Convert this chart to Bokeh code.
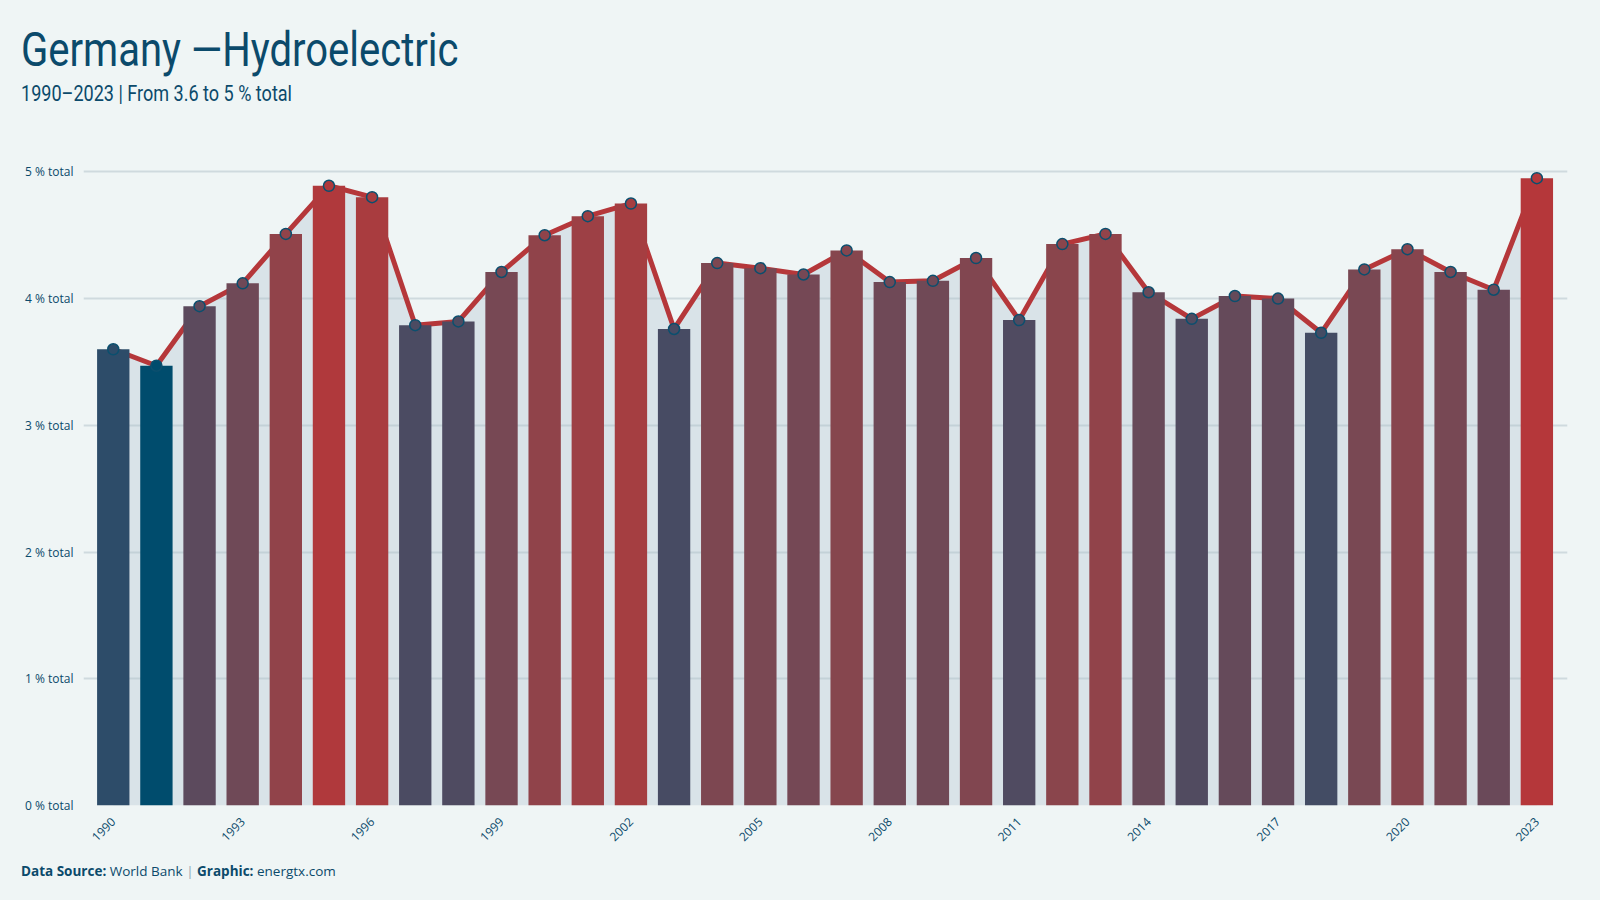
import math
import numpy as np
from bokeh.plotting import figure
from bokeh.layouts import column
from bokeh.models import Range1d, FixedTicker, ColumnDataSource, Div
from bokeh.embed import file_html
from bokeh.resources import INLINE

# ---- data ----
years = list(range(1990, 2024))
share = [3.60, 3.47, 3.94, 4.12, 4.51, 4.89, 4.80, 3.79, 3.82, 4.21,
         4.50, 4.65, 4.75, 3.76, 4.28, 4.24, 4.19, 4.38, 4.13, 4.14,
         4.32, 3.83, 4.43, 4.51, 4.05, 3.84, 4.02, 4.00, 3.73, 4.23,
         4.39, 4.21, 4.07, 4.95]
y_ticks = [0, 1, 2, 3, 4, 5]
y_tick_labels = ["0 % total", "1 % total", "2 % total", "3 % total", "4 % total", "5 % total"]
x_ticks = list(range(1990, 2024, 3))

title_text = "Germany \u2014Hydroelectric"
subtitle_text = "1990\u20132023 | From 3.6 to 5 % total"
source_label, source_name = "Data Source:", "World Bank"
graphic_label, graphic_name = "Graphic:", "energtx.com"

LOW = "#004c6d"
HIGH = "#b5373a"
BG = "#eff5f5"
TEXT = "#0b4a6b"

X0, X1 = 1989.31, 2023.71
Y0, Y1 = 0, 5.2
HEADER_H = 120
FOOTER_H = 45
FRAME_L, FRAME_W, FRAME_T, FRAME_H = 83, 1484, 146, 659
FIG_H = 900 - HEADER_H - FOOTER_H


# ---- Lab colour interpolation ----
def _hex2rgb(h):
    h = h.lstrip("#")
    return np.array([int(h[i:i + 2], 16) for i in (0, 2, 4)], dtype=float)


def _rgb2lab(rgb):
    c = rgb / 255.0
    c = np.where(c <= 0.04045, c / 12.92, ((c + 0.055) / 1.055) ** 2.4)
    M = np.array([[0.4124564, 0.3575761, 0.1804375],
                  [0.2126729, 0.7151522, 0.0721750],
                  [0.0193339, 0.1191920, 0.9503041]])
    xyz = M @ c / np.array([0.95047, 1.0, 1.08883])
    d = 6 / 29
    f = np.where(xyz > d ** 3, np.cbrt(xyz), xyz / (3 * d * d) + 4 / 29)
    return np.array([116 * f[1] - 16, 500 * (f[0] - f[1]), 200 * (f[1] - f[2])])


def _lab2hex(lab):
    L, a, b = lab
    fy = (L + 16) / 116
    fx = fy + a / 500
    fz = fy - b / 200
    d = 6 / 29
    f = np.array([fx, fy, fz])
    xyz = np.where(f > d, f ** 3, 3 * d * d * (f - 4 / 29)) * np.array([0.95047, 1.0, 1.08883])
    Mi = np.array([[3.2404542, -1.5371385, -0.4985314],
                   [-0.9692660, 1.8760108, 0.0415560],
                   [0.0556434, -0.2040259, 1.0572252]])
    c = Mi @ xyz
    c = np.clip(c, 0, 1)
    c = np.where(c <= 0.0031308, 12.92 * c, 1.055 * c ** (1 / 2.4) - 0.055)
    r, g, bb = (np.clip(np.round(c * 255), 0, 255)).astype(int)
    return "#%02x%02x%02x" % (r, g, bb)


lab_lo, lab_hi = _rgb2lab(_hex2rgb(LOW)), _rgb2lab(_hex2rgb(HIGH))
vmin, vmax = min(share), max(share)
colors = [_lab2hex(lab_lo + (v - vmin) / (vmax - vmin) * (lab_hi - lab_lo)) for v in share]

src = ColumnDataSource(dict(year=years, share=share, color=colors))

# ---- header ----
header = Div(
    text=(f"<div style=\"position:relative;width:1600px;height:{HEADER_H}px;\">"
          f"<div style=\"position:absolute;left:21px;top:25.6px;font-family:Roboto,sans-serif;"
          f"font-size:48px;line-height:48px;color:{TEXT};white-space:nowrap;"
          f"transform:scaleX(0.834);transform-origin:0 0;\">{title_text}</div>"
          f"<div style=\"position:absolute;left:21px;top:82.5px;font-family:Roboto,sans-serif;"
          f"font-size:22px;line-height:22px;color:{TEXT};white-space:nowrap;"
          f"transform:scaleX(0.82);transform-origin:0 0;\">{subtitle_text}</div>"
          f"</div>"),
    width=1600, height=HEADER_H,
    styles={"background-color": BG, "margin": "0", "padding": "0"},
)

# ---- figure ----
p = figure(width=1600, height=FIG_H, output_backend="svg", toolbar_location=None,
           x_range=Range1d(X0, X1), y_range=Range1d(Y0, Y1),
           min_border_left=FRAME_L, min_border_right=1600 - FRAME_L - FRAME_W,
           min_border_top=FRAME_T - HEADER_H,
           min_border_bottom=FIG_H - (FRAME_T - HEADER_H) - FRAME_H)
p.title.visible = False
p.background_fill_alpha = 0
p.border_fill_color = BG
p.outline_line_color = None

# area under the line (under the grid)
p.varea(x="year", y1=0, y2="share", source=src, fill_color="#d9e3e8", level="image")

# grid
p.xgrid.visible = False
p.ygrid.ticker = FixedTicker(ticks=y_ticks)
p.ygrid.grid_line_color = "#a9bac4"
p.ygrid.grid_line_alpha = 0.45
p.ygrid.grid_line_width = 2

# line, bars, markers
p.line(x="year", y="share", source=src, line_color="#b5373a", line_width=5)
p.vbar(x="year", top="share", width=0.75, bottom=0, source=src,
       fill_color="color", line_color=None)
p.scatter(x="year", y="share", source=src, size=11, fill_color="color",
          line_color="#0b4f6e", line_width=1.5)

# axes
p.yaxis.ticker = FixedTicker(ticks=y_ticks)
p.yaxis.major_label_overrides = {t: lab for t, lab in zip(y_ticks, y_tick_labels)}
p.xaxis.ticker = FixedTicker(ticks=x_ticks)
for ax in (p.xaxis, p.yaxis):
    ax.axis_line_color = None
    ax.major_tick_line_color = None
    ax.minor_tick_line_color = None
    ax.major_label_text_font = "Open Sans"
    ax.major_label_text_font_size = "12px"
    ax.major_label_text_color = TEXT
p.yaxis.major_label_standoff = 4
p.xaxis.major_label_standoff = 8
p.xaxis.major_label_orientation = math.pi / 4

# ---- footer ----
footer = Div(
    text=(f"<div style=\"font-family:'Open Sans',sans-serif;font-size:13.5px;line-height:20px;"
          f"padding:6px 0 0 21px;color:{TEXT};white-space:nowrap;\">"
          f"<b>{source_label}</b> {source_name} <span style='color:#8ea6b4'>|</span> "
          f"<b>{graphic_label}</b> {graphic_name}</div>"),
    width=1600, height=FOOTER_H,
    styles={"background-color": BG, "margin": "0", "padding": "0"},
)

layout = column(header, p, footer, spacing=0, styles={"background-color": BG})

open("out.html", "w").write(file_html(layout, INLINE))
